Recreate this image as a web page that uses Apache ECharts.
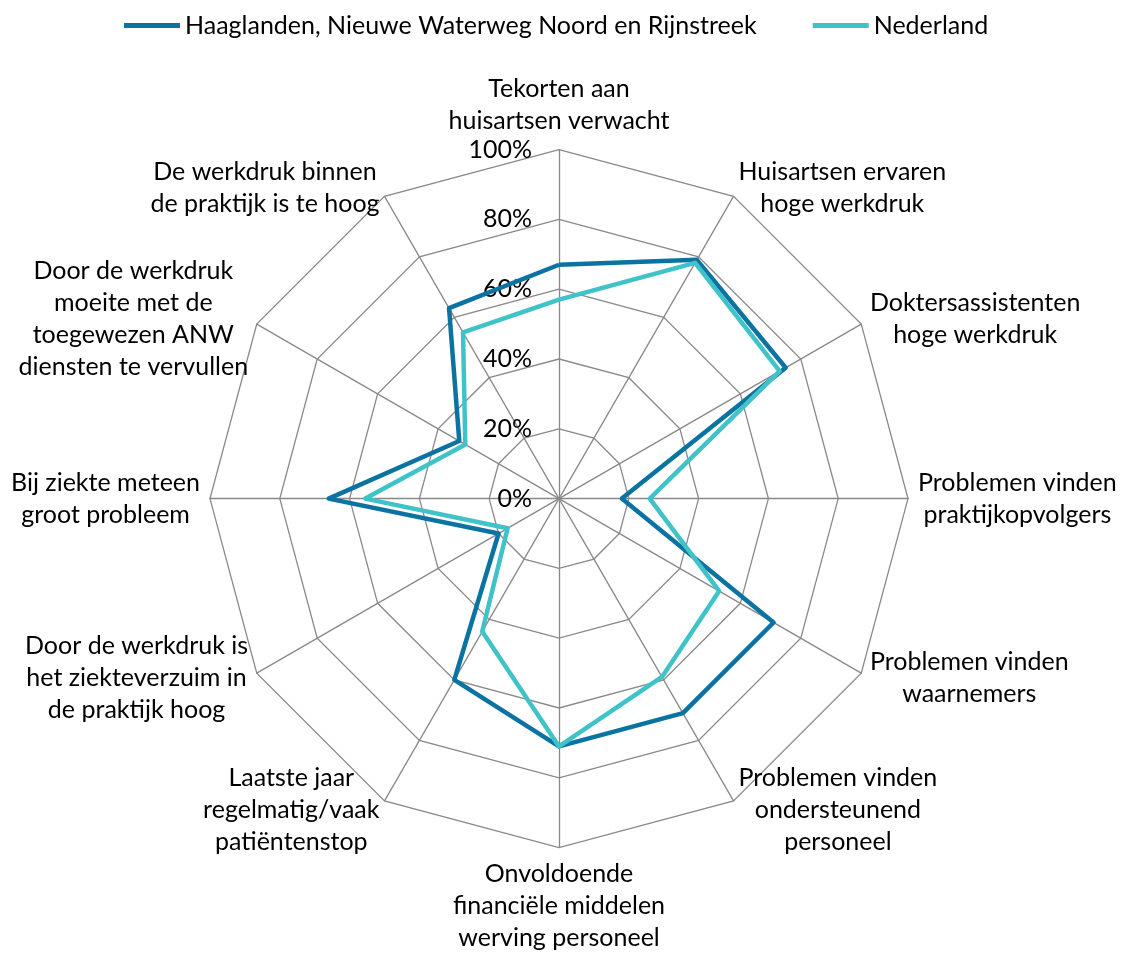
<!DOCTYPE html>
<html><head><meta charset="utf-8">
<script src="https://cdn.jsdelivr.net/npm/echarts@6/dist/echarts.min.js"></script>
<style>html,body{margin:0;padding:0;background:#fff}#c{width:1123px;height:956px}</style>
</head><body><div id="c"></div>
<script>
// Categories in clockwise order, starting at the top
const categories = [
  "Tekorten aan\nhuisartsen verwacht",
  "Huisartsen ervaren\nhoge werkdruk",
  "Doktersassistenten\nhoge werkdruk",
  "Problemen vinden\npraktijkopvolgers",
  "Problemen vinden\nwaarnemers",
  "Problemen vinden\nondersteunend\npersoneel",
  "Onvoldoende\nfinanciële middelen\nwerving personeel",
  "Laatste jaar\nregelmatig/vaak\npatiëntenstop",
  "Door de werkdruk is\nhet ziekteverzuim in\nde praktijk hoog",
  "Bij ziekte meteen\ngroot probleem",
  "Door de werkdruk\nmoeite met de\ntoegewezen ANW\ndiensten te vervullen",
  "De werkdruk binnen\nde praktijk is te hoog"
];
const haaglanden = [67, 79, 75, 18, 71, 71, 71, 60, 20, 66, 33, 63];
const nederland  = [57, 78, 73, 26, 53, 59, 71, 44, 17, 55.5, 31, 55];
const seriesNames = ["Haaglanden, Nieuwe Waterweg Noord en Rijnstreek", "Nederland"];
const tickLabels = ["0%", "20%", "40%", "60%", "80%", "100%"];

const colors = ["#0B73A1", "#40C3C8"];
const FONT = "Lato";
const FS = 25;

// ECharts lays radar indicators out counter-clockwise; reorder so the chart reads clockwise
const order = [0];
for (let i = categories.length - 1; i >= 1; i--) order.push(i);

const indicator = order.map((idx, k) => {
  const ind = { name: categories[idx], min: 0, max: 100 };
  if (k === 0) {
    ind.axisLabel = {
      show: true,
      color: "#000",
      fontFamily: FONT,
      fontSize: FS,
      margin: 27,
      formatter: v => tickLabels[Math.round(v / 20)]
    };
  }
  return ind;
});

const chart = echarts.init(document.getElementById("c"), null, { renderer: "canvas" });
chart.setOption({
  animation: false,
  color: colors,
  legend: {
    top: 13,
    left: 124,
    padding: 0,
    icon: "rect",
    itemWidth: 56,
    itemHeight: 5,
    itemGap: 56,
    textStyle: { color: "#000", fontFamily: FONT, fontSize: FS },
    data: seriesNames
  },
  radar: {
    center: [559, 498.6],
    radius: 349,
    startAngle: 90,
    shape: "polygon",
    splitNumber: 5,
    nameGap: 10,
    axisName: {
      color: "#000",
      fontFamily: FONT,
      fontSize: FS,
      lineHeight: 32,
      formatter: v => v.split("\n").map(s => "{c|" + s + "}").join("\n"),
      rich: { c: { align: "center", fontFamily: FONT, fontSize: FS, lineHeight: 32, color: "#000" } }
    },
    splitLine: { lineStyle: { color: "#898989", width: 1.3 } },
    splitArea: { show: false },
    axisLine: { lineStyle: { color: "#898989", width: 1.3 } },
    axisTick: { show: false },
    axisLabel: { show: false },
    indicator: indicator
  },
  series: [{
    type: "radar",
    symbol: "none",
    data: [
      { name: seriesNames[0], value: order.map(i => haaglanden[i]),
        lineStyle: { color: colors[0], width: 4.5 }, itemStyle: { color: colors[0] } },
      { name: seriesNames[1], value: order.map(i => nederland[i]),
        lineStyle: { color: colors[1], width: 4.5 }, itemStyle: { color: colors[1] } }
    ]
  }]
});
</script>
</body></html>
